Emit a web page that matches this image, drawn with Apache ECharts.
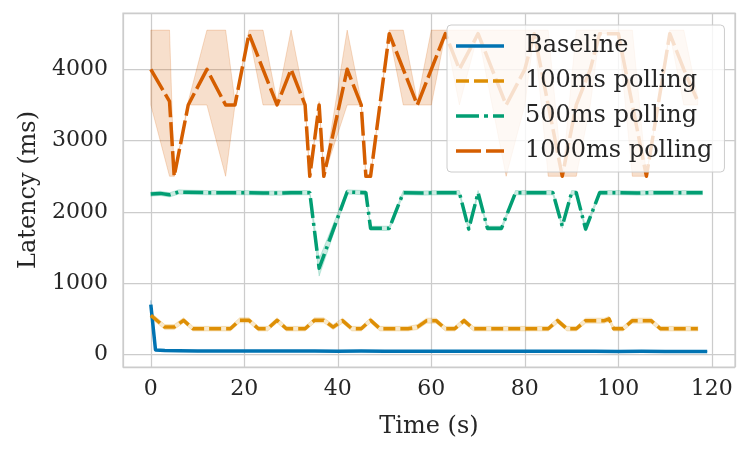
<!DOCTYPE html>
<html>
<head>
<meta charset="utf-8">
<script src="https://cdn.jsdelivr.net/npm/echarts@6/dist/echarts.min.js"></script>
<style>
  html, body { margin: 0; padding: 0; background: #fff; }
  #main { width: 748px; height: 452px; }
</style>
</head>
<body>
<div id="main"></div>
<script>
// Baseline
var tBase = [0, 1, 3, 6, 10, 15, 20, 25, 30, 35, 40, 45, 50, 55, 60, 65, 70, 75, 80, 85, 90, 95, 100, 105, 110, 115, 119];
var vBase = [700, 65, 55, 52, 50, 50, 48, 50, 49, 48, 47, 48, 47, 46, 46, 46, 45, 46, 45, 45, 46, 45, 44, 45, 44, 44, 44];
var loBase = [640, 55, 48, 45, 43, 43, 41, 43, 42, 41, 40, 41, 40, 39, 39, 39, 38, 39, 38, 38, 39, 38, 37, 38, 37, 37, 37];
var hiBase = [760, 75, 62, 59, 57, 57, 55, 57, 56, 55, 54, 55, 54, 53, 53, 53, 52, 53, 52, 52, 53, 52, 51, 52, 51, 51, 51];

// 100ms polling
var t100 = [0, 3, 5, 7, 9, 11, 13, 15, 17, 19, 21, 23, 25, 27, 29, 31, 33, 35, 37, 39, 41, 43, 45, 47, 49, 51, 53, 55, 57, 59,
  61, 63, 65, 67, 69, 71, 73, 75, 77, 79, 81, 83, 85, 87, 89, 91, 93, 95, 97, 98, 99, 101, 103, 105, 107, 109, 111, 113, 115, 117];
var v100 = [550, 385, 385, 480, 362, 362, 362, 362, 362, 480, 480, 362, 362, 480, 362, 362, 362, 480, 480, 385, 475, 362, 362, 480, 362, 362, 362, 362, 385, 475,
  475, 362, 362, 475, 362, 362, 362, 362, 362, 362, 362, 362, 362, 475, 362, 362, 475, 475, 475, 500, 362, 362, 475, 475, 475, 362, 362, 362, 362, 362];
var lo100 = [510, 350, 350, 445, 330, 330, 330, 330, 330, 445, 445, 330, 330, 445, 330, 330, 330, 445, 445, 350, 440, 330, 330, 445, 330, 330, 330, 330, 350, 440,
  440, 330, 330, 440, 330, 330, 330, 330, 330, 330, 330, 330, 330, 440, 330, 330, 440, 440, 440, 465, 330, 330, 440, 440, 440, 330, 330, 330, 330, 330];
var hi100 = [590, 420, 420, 515, 395, 395, 395, 395, 395, 515, 515, 395, 395, 515, 395, 395, 395, 515, 515, 420, 510, 395, 395, 515, 395, 395, 395, 395, 420, 510,
  510, 395, 395, 510, 395, 395, 395, 395, 395, 395, 395, 395, 395, 510, 395, 395, 510, 510, 510, 535, 395, 395, 510, 510, 510, 395, 395, 395, 395, 395];

// 500ms polling
var t500 = [0, 2, 4, 6, 8, 12, 16, 20, 24, 28, 30, 34, 36, 42, 46, 47, 51, 54, 58, 62, 66, 68, 70, 72, 75, 78, 82, 86, 88, 90, 91, 93, 96, 100, 104, 108, 112, 116, 118];
var v500 = [2250, 2260, 2240, 2280, 2275, 2270, 2270, 2270, 2265, 2265, 2270, 2270, 1210, 2280, 2270, 1770, 1770, 2270, 2265, 2270, 2270, 1760, 2270, 1770, 1770,
  2270, 2270, 2270, 1800, 2270, 2270, 1760, 2270, 2270, 2265, 2270, 2270, 2270, 2270];
var lo500 = [2220, 2230, 2210, 2250, 2245, 2240, 2240, 2240, 2235, 2235, 2240, 2240, 1100, 2250, 2240, 1740, 1740, 2240, 2235, 2240, 2240, 1730, 2240, 1740, 1740,
  2240, 2240, 2240, 1770, 2240, 2240, 1730, 2240, 2240, 2235, 2240, 2240, 2240, 2240];
var hi500 = [2280, 2290, 2270, 2310, 2305, 2300, 2300, 2300, 2295, 2295, 2300, 2300, 1340, 2310, 2300, 1800, 1800, 2300, 2295, 2300, 2300, 1790, 2300, 1800, 1800,
  2300, 2300, 2300, 1830, 2300, 2300, 1790, 2300, 2300, 2295, 2300, 2300, 2300, 2300];

// 1000ms polling
var t1000 = [0, 4, 5, 8, 12, 16, 18, 21, 24, 27, 30, 33, 34, 36, 37, 42, 45, 46, 47, 51, 54, 57, 60, 63, 66, 70, 73, 76, 80, 82, 85, 88, 91, 94, 96, 100, 103, 106, 111, 114, 117];
var v1000 = [4000, 3550, 2500, 3500, 4000, 3500, 3500, 4500, 4000, 3500, 4000, 3500, 2500, 3500, 2500, 4000, 3500, 2500, 2500, 4500, 4000, 3500, 4000, 4500,
  4000, 4500, 4000, 3500, 4000, 4500, 3500, 2500, 3500, 4000, 4500, 4500, 3500, 2500, 4500, 4000, 3550];
var lo1000 = [3500, 2500, 2500, 3500, 3500, 2500, 3500, 4500, 3500, 3500, 3500, 3500, 2500, 3500, 2500, 3500, 3500, 2500, 2500, 4500, 3500, 3500, 3500, 4500,
  3500, 4500, 3500, 2500, 3500, 4500, 2500, 2500, 2500, 3500, 4500, 4500, 2500, 2500, 4500, 3500, 3500];
var hi1000 = [4550, 4550, 2500, 3550, 4550, 4550, 3550, 4550, 4550, 3550, 4550, 3550, 2500, 3550, 2500, 4550, 3550, 2500, 2500, 4550, 4550, 3550, 4550, 4550,
  4550, 4550, 4550, 4550, 4550, 4550, 4550, 2500, 4550, 4550, 4550, 4550, 4550, 2500, 4550, 4550, 3600];

var names = ['Baseline', '100ms polling', '500ms polling', '1000ms polling'];
var colors = ['#0173b2', '#de8f05', '#029e73', '#d55e00'];
var bandColors = ['rgba(1,115,178,0.2)', 'rgba(222,143,5,0.2)', 'rgba(2,158,115,0.2)', 'rgba(213,94,0,0.2)'];
var dashes = ['solid', [12, 5], [20, 5, 3, 5], [24, 5]];
// legend icons drawn as little dash patterns
var icons = [
  'path://M0,0h48v3.4h-48z',
  'path://M0,0h13v3.4h-13z M18,0h14v3.4h-14z M37,0h11v3.4h-11z',
  'path://M0,0h23v3.4h-23z M28,0h4v3.4h-4z M37,0h11v3.4h-11z',
  'path://M0,0h25v3.4h-25z M30,0h18v3.4h-18z'
];

var font = 'DejaVu Serif';
var textColor = '#262626';

function pairs(t, v) {
  return t.map(function (x, i) { return [x, v[i]]; });
}

var groups = [
  { t: tBase, v: vBase, lo: loBase, hi: hiBase },
  { t: t100, v: v100, lo: lo100, hi: hi100 },
  { t: t500, v: v500, lo: lo500, hi: hi500 },
  { t: t1000, v: v1000, lo: lo1000, hi: hi1000 }
];

function bandRender(g, color) {
  return function (params, api) {
    if (params.dataIndex !== 0) return null;
    var top = g.t.map(function (x, i) { return api.coord([x, g.hi[i]]); });
    var bot = g.t.map(function (x, i) { return api.coord([x, g.lo[i]]); }).reverse();
    return {
      type: 'polygon',
      shape: { points: top.concat(bot) },
      style: { fill: color, stroke: color, lineWidth: 1 }
    };
  };
}

var series = [];
groups.forEach(function (g, k) {
  series.push({
    name: 'band' + k, type: 'custom', silent: true, clip: true,
    data: pairs(g.t, g.v),
    encode: { x: 0, y: 1 },
    renderItem: bandRender(g, bandColors[k])
  });
  series.push({
    name: names[k], type: 'line', data: pairs(g.t, g.v),
    symbol: 'none', showSymbol: false,
    itemStyle: { color: colors[k] },
    lineStyle: { color: colors[k], width: 3.5, type: dashes[k], cap: 'butt', join: 'round' }
  });
});

var chart = echarts.init(document.getElementById('main'));
var option = {
  animation: false,
  backgroundColor: '#ffffff',
  grid: {
    left: 123, right: 13, top: 13, bottom: 85,
    show: true, borderColor: '#cccccc', borderWidth: 1.25
  },
  legend: {
    data: names.map(function (n, k) { return { name: n, icon: icons[k] }; }),
    orient: 'vertical',
    left: 447, top: 25,
    padding: [9, 12, 9, 9],
    itemWidth: 48, itemHeight: 3.4, itemGap: 11,
    itemStyle: { borderWidth: 0 },
    backgroundColor: 'rgba(255,255,255,0.8)',
    borderColor: '#cccccc', borderWidth: 1, borderRadius: 4,
    textStyle: { fontFamily: font, fontSize: 24, color: textColor, lineHeight: 24, padding: [0, 0, 0, 16] }
  },
  xAxis: {
    type: 'value', min: -5.95, max: 124.95, splitNumber: 6,
    name: 'Time (s)', nameLocation: 'middle', nameGap: 48,
    nameTextStyle: { fontFamily: font, fontSize: 24, color: textColor },
    axisLine: { show: false }, axisTick: { show: false },
    axisLabel: {
      fontFamily: font, fontSize: 22, color: textColor, margin: 11,
      formatter: function (v) { return Math.abs(v % 20) < 1e-6 ? String(v) : ''; }
    },
    splitLine: { show: true, lineStyle: { color: '#cccccc', width: 1.25 } }
  },
  yAxis: {
    type: 'value', min: -175, max: 4790,
    name: 'Latency (ms)', nameLocation: 'middle', nameGap: 80,
    nameTextStyle: { fontFamily: font, fontSize: 24, color: textColor },
    axisLine: { show: false }, axisTick: { show: false },
    axisLabel: {
      fontFamily: font, fontSize: 22, color: textColor, margin: 15,
      formatter: function (v) { return Math.abs(v % 1000) < 1e-6 ? String(v) : ''; }
    },
    splitLine: { show: true, lineStyle: { color: '#cccccc', width: 1.25 } }
  },
  series: series
};
chart.setOption(option);
</script>
</body>
</html>
